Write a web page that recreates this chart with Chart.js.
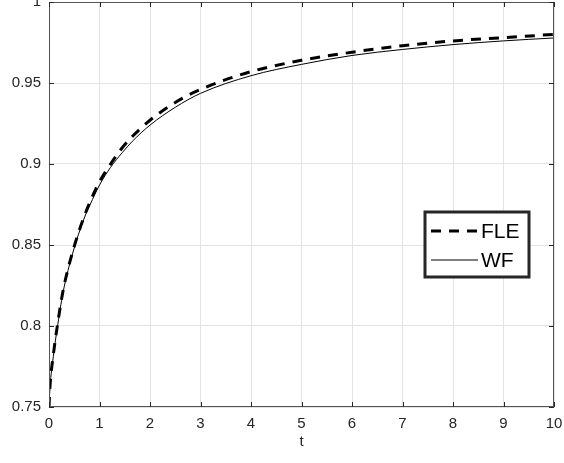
<!DOCTYPE html>
<html>
<head>
<meta charset="utf-8">
<script src="https://cdn.jsdelivr.net/npm/chart.js@4/dist/chart.umd.min.js"></script>
<style>
  html, body { margin: 0; padding: 0; background: #fff; }
  #wrap { width: 564px; height: 463px; }
</style>
</head>
<body>
<div id="wrap"><canvas id="myChart" width="564" height="463"></canvas></div>
<script>
const tValues = [0, 0.02, 0.085, 0.16, 0.28, 0.47, 0.69, 0.86, 1.0, 1.22, 1.45, 1.65, 2, 2.5, 3, 4, 5, 6, 7, 8, 9, 10];
const fleValues = [0.75, 0.763, 0.782, 0.799, 0.822, 0.846, 0.867, 0.880, 0.889, 0.900, 0.910, 0.917, 0.927, 0.938, 0.946, 0.957, 0.964, 0.969, 0.973, 0.976, 0.978, 0.980];
const wfValues = [0.75, 0.762, 0.781, 0.798, 0.821, 0.845, 0.866, 0.878, 0.887, 0.898, 0.907, 0.914, 0.924, 0.935, 0.9436, 0.9545, 0.9615, 0.967, 0.9707, 0.9737, 0.976, 0.9778];
const xTicks = [0, 1, 2, 3, 4, 5, 6, 7, 8, 9, 10];
const yTicks = [0.75, 0.8, 0.85, 0.9, 0.95, 1];

const font = "'Liberation Sans', Arial, sans-serif";
const textColor = '#262626';

const toPoints = ys => tValues.map((t, i) => ({x: t, y: ys[i]}));

// MATLAB style box with inward ticks plus the legend inside the axes
const boxPlugin = {
  id: 'box',
  afterDraw(chart) {
    const {ctx, chartArea: a, scales} = chart;
    ctx.save();
    ctx.strokeStyle = '#555';
    ctx.lineWidth = 1;
    ctx.strokeRect(a.left + 0.5, a.top + 0.5, a.right - a.left - 1, a.bottom - a.top - 1);
    ctx.strokeStyle = '#262626';
    ctx.beginPath();
    xTicks.forEach(v => {
      const px = Math.round(scales.x.getPixelForValue(v)) + 0.5;
      ctx.moveTo(px, a.bottom); ctx.lineTo(px, a.bottom - 5);
      ctx.moveTo(px, a.top); ctx.lineTo(px, a.top + 5);
    });
    yTicks.forEach(v => {
      const py = Math.round(scales.y.getPixelForValue(v)) + 0.5;
      ctx.moveTo(a.left, py); ctx.lineTo(a.left + 5, py);
      ctx.moveTo(a.right, py); ctx.lineTo(a.right - 5, py);
    });
    ctx.stroke();

    // legend
    const lx = 425, ly = 212, lw = 104, lh = 65;
    ctx.fillStyle = '#fff';
    ctx.fillRect(lx, ly, lw, lh);
    ctx.lineWidth = 3;
    ctx.strokeStyle = '#262626';
    ctx.strokeRect(lx, ly, lw, lh);
    chart.data.datasets.forEach((ds, i) => {
      const y = ly + 19 + i * 29;
      ctx.strokeStyle = ds.borderColor;
      ctx.lineWidth = ds.borderWidth;
      ctx.setLineDash(ds.borderDash || []);
      ctx.beginPath();
      ctx.moveTo(lx + 6, y); ctx.lineTo(lx + 53, y);
      ctx.stroke();
      ctx.setLineDash([]);
      ctx.fillStyle = '#000';
      ctx.font = '21px ' + font;
      ctx.textBaseline = 'middle';
      ctx.fillText(ds.label, lx + 56, y + 1);
    });
    ctx.restore();
  }
};

new Chart(document.getElementById('myChart'), {
  type: 'line',
  data: {
    datasets: [{
      label: 'FLE',
      data: toPoints(fleValues),
      borderColor: '#000',
      borderWidth: 3,
      borderDash: [10, 8],
      pointRadius: 0,
      cubicInterpolationMode: 'monotone',
      fill: false
    }, {
      label: 'WF',
      data: toPoints(wfValues),
      borderColor: '#000',
      borderWidth: 1,
      pointRadius: 0,
      cubicInterpolationMode: 'monotone',
      fill: false
    }]
  },
  options: {
    responsive: false,
    animation: false,
    devicePixelRatio: 1,
    layout: {padding: {top: 2, right: 10, left: 0, bottom: 0}},
    plugins: {legend: {display: false}, tooltip: {enabled: false}},
    scales: {
      x: {
        type: 'linear',
        min: 0, max: 10,
        afterBuildTicks: s => { s.ticks = xTicks.map(v => ({value: v})); },
        afterFit: s => { s.height = 56; s.paddingLeft = 0; s.paddingRight = 0; },
        grid: {color: '#e3e3e3', drawTicks: false},
        border: {display: false},
        ticks: {color: textColor, font: {family: font, size: 15}, padding: 8, maxRotation: 0},
        title: {display: true, text: 't', color: textColor, font: {family: font, size: 15}, padding: {top: 0, bottom: 12}}
      },
      y: {
        type: 'linear',
        min: 0.75, max: 1,
        afterBuildTicks: s => { s.ticks = yTicks.map(v => ({value: v})); },
        afterFit: s => { s.width = 49; s.paddingTop = 0; s.paddingBottom = 0; },
        grid: {color: '#e3e3e3', drawTicks: false},
        border: {display: false},
        ticks: {color: textColor, font: {family: font, size: 15}, padding: 8, callback: v => String(v)}
      }
    }
  },
  plugins: [boxPlugin]
});
</script>
</body>
</html>
